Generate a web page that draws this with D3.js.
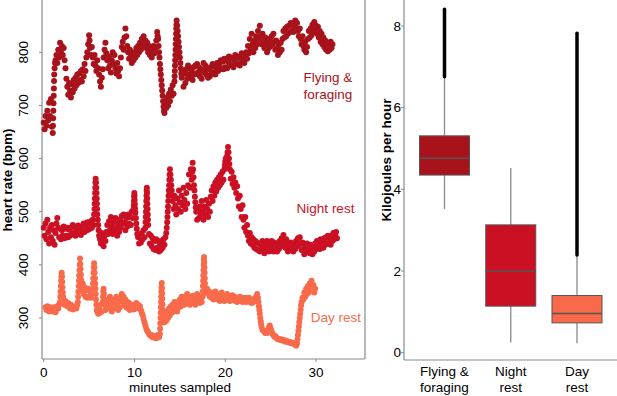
<!DOCTYPE html>
<html>
<head>
<meta charset="utf-8">
<script src="https://cdn.jsdelivr.net/npm/d3@7"></script>
<style>
  body { margin: 0; background: #fff; }
  text { font-family: "Liberation Sans", Arial, Helvetica, sans-serif; }
</style>
</head>
<body>
<div id="chart"></div>
<script>
// --- heart rate series: [minutes, bpm] ---
const flying = [
  [0.0,668],[0.1,655],[0.2,680],[0.3,662],[0.4,690],[0.5,672],[0.6,705],[0.7,680],[0.8,712],[0.9,660],
  [1.0,648],[1.02,662],[1.04,676],[1.06,690],[1.08,704],[1.1,718],[1.12,732],[1.14,746],[1.16,758],[1.2,770],
  [1.25,780],[1.3,785],[1.4,795],[1.5,780],[1.6,805],[1.7,790],[1.8,818],[1.9,800],[2.0,812],[2.1,795],
  [2.2,808],[2.3,785],[2.4,770],[2.5,750],[2.6,735],[2.7,720],[2.8,742],[2.9,728],[3.0,715],[3.1,740],
  [3.2,725],[3.3,748],[3.4,732],[3.5,752],[3.6,738],[3.7,758],[3.8,742],[3.9,760],[4.0,748],[4.1,765],
  [4.2,745],[4.3,768],[4.4,755],[4.5,778],[4.6,765],[4.7,790],[4.8,800],[4.9,815],[5.0,832],[5.05,822],
  [5.1,808],[5.2,795],[5.3,810],[5.4,790],[5.5,778],[5.6,795],[5.7,775],[5.8,765],[5.9,785],[6.0,770],
  [6.1,758],[6.2,745],[6.3,735],[6.4,752],[6.5,768],[6.6,790],[6.7,805],[6.8,818],[6.9,798],[7.0,785],
  [7.1,770],[7.2,792],[7.3,775],[7.4,762],[7.5,785],[7.6,800],[7.7,778],[7.8,795],[7.9,770],[8.0,760],
  [8.1,780],[8.2,765],[8.3,755],[8.4,770],[8.5,790],[8.6,810],[8.7,820],[8.8,805],[8.9,828],[9.0,845],
  [9.1,830],[9.2,812],[9.3,800],[9.4,788],[9.5,805],[9.6,792],[9.7,780],[9.8,798],[9.9,785],[10.0,800],
  [10.1,790],[10.2,808],[10.3,795],[10.4,812],[10.5,800],[10.6,818],[10.7,805],[10.8,825],[10.9,810],[11.0,830],
  [11.1,815],[11.2,822],[11.3,808],[11.4,818],[11.5,800],[11.6,812],[11.7,795],[11.8,805],[11.9,790],[12.0,800],
  [12.1,812],[12.2,798],[12.3,808],[12.4,822],[12.5,838],[12.55,830],[12.6,825],[12.65,812],[12.7,800],[12.75,790],
  [12.8,778],[12.85,768],[12.9,758],[12.95,748],[13.0,738],[13.05,728],[13.1,718],[13.15,708],[13.2,698],[13.25,690],
  [13.3,686],[13.4,705],[13.5,695],[13.6,715],[13.7,700],[13.8,722],[13.9,708],[14.0,730],[14.1,718],[14.2,738],
  [14.3,722],[14.4,745],[14.42,755],[14.44,765],[14.46,775],[14.48,785],[14.5,795],[14.52,805],[14.54,815],[14.56,825],
  [14.58,835],[14.6,845],[14.62,852],[14.64,860],[14.7,850],[14.75,840],[14.8,830],[14.85,820],[14.9,810],[14.95,800],
  [15.0,790],[15.05,780],[15.1,770],[15.15,760],[15.2,752],[15.3,765],[15.4,735],[15.5,760],[15.6,742],[15.7,768],
  [15.8,750],[15.9,775],[16.0,758],[16.1,770],[16.2,752],[16.3,765],[16.4,748],[16.5,772],[16.6,758],[16.7,775],
  [16.8,760],[16.9,778],[17.0,762],[17.1,772],[17.2,755],[17.3,768],[17.4,750],[17.5,765],[17.6,780],[17.7,762],
  [17.8,775],[17.9,758],[18.0,770],[18.1,752],[18.2,768],[18.3,755],[18.4,772],[18.5,760],[18.6,778],[18.7,762],
  [18.8,775],[18.9,758],[19.0,770],[19.1,780],[19.2,765],[19.3,778],[19.4,768],[19.5,785],[19.6,770],[19.7,782],
  [19.8,768],[19.9,788],[20.0,772],[20.1,785],[20.2,770],[20.3,782],[20.4,792],[20.5,778],[20.6,790],[20.7,775],
  [20.8,788],[20.9,772],[21.0,785],[21.1,795],[21.2,780],[21.3,792],[21.4,778],[21.5,790],[21.6,775],[21.7,788],
  [21.8,798],[21.9,782],[22.0,795],[22.1,780],[22.2,792],[22.3,800],[22.4,788],[22.5,812],[22.6,798],[22.7,825],
  [22.8,805],[22.9,835],[23.0,815],[23.1,800],[23.2,822],[23.3,808],[23.4,830],[23.5,815],[23.6,840],[23.7,825],
  [23.8,850],[23.9,830],[24.0,815],[24.1,835],[24.2,820],[24.3,808],[24.4,828],[24.5,812],[24.6,800],[24.7,820],
  [24.8,808],[24.9,825],[25.0,812],[25.1,830],[25.2,815],[25.3,835],[25.4,820],[25.5,805],[25.6,822],[25.7,808],
  [25.8,795],[25.9,815],[26.0,800],[26.1,818],[26.2,805],[26.3,825],[26.4,840],[26.5,828],[26.6,845],[26.7,830],
  [26.8,848],[26.9,835],[27.0,850],[27.1,838],[27.2,855],[27.3,840],[27.4,852],[27.5,838],[27.6,848],[27.7,860],
  [27.8,845],[27.9,855],[28.0,840],[28.1,830],[28.2,845],[28.3,825],[28.4,815],[28.5,830],[28.6,812],[28.7,805],
  [28.8,820],[28.9,800],[29.0,810],[29.1,825],[29.2,840],[29.3,828],[29.4,845],[29.5,832],[29.6,852],[29.7,838],
  [29.8,857],[29.9,842],[30.0,850],[30.1,835],[30.2,848],[30.3,828],[30.4,840],[30.5,820],[30.6,835],[30.7,815],
  [30.8,828],[30.9,810],[31.0,822],[31.1,805],[31.2,818],[31.3,802],[31.4,815],[31.5,805],[31.6,820],[31.7,808],[31.8,815]
];

const nightRest = [
  [0.0,470],[0.1,455],[0.2,478],[0.3,448],[0.4,485],[0.5,462],[0.6,440],[0.7,470],[0.8,452],[0.9,475],
  [1.0,445],[1.1,465],[1.2,438],[1.3,460],[1.4,478],[1.5,488],[1.6,470],[1.7,452],[1.8,468],[1.9,448],
  [2.0,465],[2.1,455],[2.2,472],[2.3,450],[2.4,468],[2.5,455],[2.6,470],[2.7,452],[2.8,466],[2.9,455],
  [3.0,470],[3.1,458],[3.2,475],[3.3,460],[3.4,472],[3.5,455],[3.6,468],[3.7,458],[3.8,474],[3.9,460],
  [4.0,470],[4.1,456],[4.2,472],[4.3,462],[4.4,478],[4.5,462],[4.6,475],[4.7,465],[4.8,480],[4.9,466],
  [5.0,478],[5.1,468],[5.2,482],[5.3,470],[5.4,485],[5.5,475],[5.55,495],[5.6,505],[5.62,515],[5.64,525],
  [5.66,535],[5.68,545],[5.7,555],[5.72,562],[5.76,555],[5.8,545],[5.82,535],[5.84,525],[5.86,515],[5.88,505],
  [5.9,495],[5.95,485],[6.0,475],[6.05,465],[6.1,455],[6.2,448],[6.3,440],[6.4,460],[6.5,448],[6.6,435],
  [6.7,455],[6.8,445],[6.9,462],[7.0,475],[7.1,458],[7.2,482],[7.3,465],[7.4,490],[7.5,472],[7.6,458],
  [7.7,480],[7.8,465],[7.9,488],[8.0,470],[8.1,455],[8.2,478],[8.3,462],[8.4,485],[8.5,470],[8.6,492],
  [8.7,478],[8.8,495],[8.9,480],[9.0,465],[9.1,488],[9.2,472],[9.3,495],[9.4,478],[9.5,490],[9.6,475],
  [9.7,500],[9.8,488],[9.9,505],[9.92,512],[9.94,520],[9.96,528],[9.98,535],[10.0,530],[10.02,522],[10.04,514],
  [10.06,506],[10.1,498],[10.15,488],[10.2,478],[10.25,468],[10.3,458],[10.4,452],[10.5,440],[10.6,458],[10.7,442],
  [10.8,460],[10.9,448],[11.0,465],[11.1,452],[11.2,470],[11.22,480],[11.24,490],[11.26,500],[11.28,510],[11.3,520],
  [11.32,530],[11.34,540],[11.36,545],[11.38,535],[11.4,525],[11.42,515],[11.44,505],[11.46,495],[11.48,485],[11.5,475],
  [11.6,458],[11.7,440],[11.8,455],[11.9,435],[12.0,450],[12.1,430],[12.2,445],[12.3,428],[12.4,448],[12.5,432],
  [12.6,445],[12.7,425],[12.8,440],[12.9,428],[13.0,445],[13.1,432],[13.2,448],[13.3,438],[13.4,452],[13.5,460],
  [13.55,470],[13.6,480],[13.63,490],[13.66,500],[13.69,510],[13.72,520],[13.75,530],[13.78,540],[13.81,550],[13.84,560],
  [13.87,570],[13.9,580],[13.95,570],[14.0,560],[14.05,550],[14.1,540],[14.15,530],[14.2,520],[14.3,505],[14.4,530],
  [14.5,512],[14.6,495],[14.7,525],[14.8,505],[14.9,540],[15.0,518],[15.1,500],[15.2,530],[15.3,512],[15.4,545],
  [15.5,522],[15.6,505],[15.7,535],[15.8,515],[15.9,550],[16.0,570],[16.1,545],[16.2,580],[16.3,560],[16.35,575],
  [16.4,592],[16.45,580],[16.5,565],[16.55,550],[16.6,540],[16.65,528],[16.7,518],[16.75,508],[16.8,500],[16.9,485],
  [17.0,505],[17.1,488],[17.2,510],[17.3,495],[17.4,520],[17.5,500],[17.6,485],[17.7,510],[17.8,495],[17.9,522],
  [18.0,505],[18.1,490],[18.2,515],[18.3,500],[18.4,528],[18.5,540],[18.6,520],[18.7,548],[18.8,530],[18.9,555],
  [19.0,538],[19.1,560],[19.2,545],[19.3,565],[19.4,550],[19.5,570],[19.6,555],[19.7,575],[19.8,560],[19.9,580],
  [19.95,588],[20.0,595],[20.05,600],[20.1,585],[20.15,598],[20.2,605],[20.25,612],[20.3,622],[20.35,612],[20.4,600],
  [20.45,590],[20.5,580],[20.6,562],[20.7,575],[20.8,552],[20.9,565],[21.0,545],[21.1,555],[21.2,535],[21.3,548],
  [21.4,525],[21.5,510],[21.6,530],[21.7,505],[21.8,490],[21.9,512],[22.0,485],[22.1,470],[22.2,490],[22.3,462],
  [22.4,475],[22.5,455],[22.6,445],[22.7,460],[22.8,440],[22.9,452],[23.0,438],[23.1,448],[23.2,432],[23.3,445],
  [23.4,430],[23.5,442],[23.6,428],[23.7,440],[23.8,425],[23.9,438],[24.0,428],[24.1,445],[24.2,432],[24.3,422],
  [24.4,440],[24.5,428],[24.6,445],[24.7,432],[24.8,425],[24.9,440],[25.0,430],[25.1,445],[25.2,435],[25.3,425],
  [25.4,442],[25.5,430],[25.6,438],[25.7,425],[25.8,440],[25.9,430],[26.0,445],[26.1,435],[26.2,450],[26.3,440],
  [26.4,456],[26.5,445],[26.6,432],[26.7,448],[26.8,435],[26.9,425],[27.0,440],[27.1,430],[27.2,442],[27.3,428],
  [27.4,438],[27.5,425],[27.6,440],[27.7,430],[27.8,445],[27.9,435],[28.0,450],[28.1,438],[28.2,452],[28.3,440],
  [28.4,428],[28.5,442],[28.6,430],[28.7,420],[28.8,438],[28.9,428],[29.0,440],[29.1,425],[29.2,435],[29.3,422],
  [29.4,438],[29.5,428],[29.6,420],[29.7,435],[29.8,425],[29.9,440],[30.0,430],[30.1,445],[30.2,432],[30.3,442],
  [30.4,430],[30.5,448],[30.6,435],[30.7,445],[30.8,432],[30.9,450],[31.0,438],[31.1,452],[31.2,440],[31.3,455],
  [31.4,442],[31.5,450],[31.6,438],[31.7,455],[31.8,445],[31.9,460],[32.0,448],[32.1,455],[32.2,462],[32.3,450]
];

const dayRest = [
  [0.2,320],[0.3,315],[0.4,322],[0.5,318],[0.6,312],[0.7,320],[0.8,315],[0.9,318],[1.0,312],[1.1,320],
  [1.2,316],[1.3,311],[1.4,318],[1.5,322],[1.6,318],[1.7,325],[1.8,330],[1.83,340],[1.86,350],[1.89,360],
  [1.92,370],[1.95,378],[1.98,385],[2.01,378],[2.04,368],[2.07,358],[2.1,348],[2.13,340],[2.16,332],[2.2,328],
  [2.3,325],[2.4,332],[2.5,328],[2.6,322],[2.7,328],[2.8,322],[2.9,318],[3.0,325],[3.1,320],[3.2,316],
  [3.3,320],[3.4,318],[3.5,322],[3.6,318],[3.7,325],[3.76,330],[3.79,340],[3.82,350],[3.85,360],[3.88,370],
  [3.91,380],[3.94,390],[3.97,400],[4.0,412],[4.03,402],[4.06,392],[4.09,382],[4.12,372],[4.15,362],[4.2,352],
  [4.3,365],[4.4,345],[4.5,358],[4.6,340],[4.7,352],[4.8,338],[4.9,355],[5.0,340],[5.1,350],[5.2,338],
  [5.3,345],[5.4,355],[5.43,365],[5.46,375],[5.49,385],[5.52,395],[5.55,403],[5.58,395],[5.61,385],[5.64,375],
  [5.67,365],[5.7,355],[5.73,345],[5.76,335],[5.8,325],[5.85,315],[5.9,312],[6.0,308],[6.1,318],[6.2,310],
  [6.3,325],[6.4,312],[6.5,330],[6.53,340],[6.56,350],[6.6,355],[6.63,345],[6.66,335],[6.7,325],[6.8,315],
  [6.9,330],[7.0,318],[7.1,335],[7.2,320],[7.3,340],[7.4,325],[7.5,312],[7.6,330],[7.7,318],[7.8,335],
  [7.9,322],[8.0,340],[8.1,328],[8.2,315],[8.3,332],[8.4,320],[8.5,338],[8.6,345],[8.7,330],[8.8,340],
  [8.9,325],[9.0,335],[9.1,320],[9.2,330],[9.3,318],[9.4,328],[9.5,315],[9.6,325],[9.7,318],[9.8,322],
  [9.9,316],[10.0,325],[10.1,318],[10.2,328],[10.3,320],[10.4,325],[10.5,318],[10.6,322],[10.7,315],[10.8,310],
  [10.9,305],[11.0,298],[11.1,292],[11.2,286],[11.3,280],[11.4,276],[11.5,273],[11.6,270],[11.7,268],[11.8,266],
  [11.9,268],[12.0,264],[12.1,266],[12.2,263],[12.3,266],[12.4,262],[12.5,265],[12.6,268],[12.7,264],[12.8,270],
  [12.82,280],[12.84,290],[12.86,300],[12.88,310],[12.9,320],[12.92,330],[12.94,340],[12.96,350],[12.98,358],[13.0,366],
  [13.02,356],[13.04,346],[13.06,336],[13.08,326],[13.1,316],[13.12,306],[13.15,298],[13.2,292],[13.3,292],[13.4,305],
  [13.5,295],[13.6,312],[13.7,300],[13.8,318],[13.9,305],[14.0,322],[14.1,310],[14.2,325],[14.3,312],[14.4,330],
  [14.5,318],[14.6,325],[14.7,312],[14.8,330],[14.9,320],[15.0,335],[15.1,322],[15.2,340],[15.3,328],[15.4,335],
  [15.5,325],[15.6,340],[15.7,328],[15.8,345],[15.9,332],[16.0,340],[16.1,325],[16.2,338],[16.3,328],[16.4,342],
  [16.5,330],[16.6,338],[16.7,325],[16.8,335],[16.9,345],[17.0,330],[17.1,340],[17.2,328],[17.3,338],[17.4,330],
  [17.5,340],[17.52,350],[17.54,360],[17.56,370],[17.58,380],[17.6,390],[17.62,400],[17.64,410],[17.66,415],[17.68,405],
  [17.7,395],[17.72,385],[17.74,375],[17.76,365],[17.8,355],[17.85,348],[17.9,348],[18.0,355],[18.1,345],[18.2,350],
  [18.3,340],[18.4,348],[18.5,338],[18.6,345],[18.7,335],[18.8,342],[18.9,350],[19.0,338],[19.1,345],[19.2,335],
  [19.3,342],[19.4,332],[19.5,340],[19.6,348],[19.7,336],[19.8,342],[19.9,332],[20.0,340],[20.1,335],[20.2,345],
  [20.3,336],[20.4,342],[20.5,332],[20.6,340],[20.7,335],[20.8,343],[20.9,334],[21.0,340],[21.1,332],[21.2,338],
  [21.3,330],[21.4,338],[21.5,332],[21.6,340],[21.7,334],[21.8,338],[21.9,330],[22.0,336],[22.1,332],[22.2,338],
  [22.3,330],[22.4,336],[22.5,332],[22.6,338],[22.7,330],[22.8,335],[22.9,328],[23.0,334],[23.1,330],[23.2,336],
  [23.3,332],[23.4,340],[23.5,345],[23.6,338],[23.65,330],[23.7,322],[23.75,315],[23.8,308],[23.85,300],[23.9,294],
  [23.95,288],[24.0,283],[24.1,278],[24.2,276],[24.3,275],[24.4,272],[24.5,275],[24.6,272],[24.7,276],[24.8,282],
  [24.9,286],[25.0,280],[25.1,275],[25.2,270],[25.3,268],[25.4,265],[25.5,266],[25.6,263],[25.7,262],[25.8,260],
  [25.9,261],[26.0,259],[26.1,260],[26.2,258],[26.3,259],[26.4,257],[26.5,258],[26.6,256],[26.7,257],[26.8,255],
  [26.9,256],[27.0,254],[27.1,255],[27.2,253],[27.3,254],[27.4,252],[27.5,253],[27.6,251],[27.7,250],[27.8,248],
  [27.9,252],[27.95,260],[28.0,268],[28.05,276],[28.1,284],[28.15,292],[28.2,300],[28.25,308],[28.3,316],[28.35,324],
  [28.4,330],[28.5,338],[28.6,335],[28.7,348],[28.8,340],[28.9,355],[29.0,345],[29.1,360],[29.2,348],[29.3,365],
  [29.4,352],[29.5,370],[29.6,358],[29.7,362],[29.8,348],[29.9,355]
];

const hrTicks = [300, 400, 500, 600, 700, 800];
const minuteTicks = [0, 10, 20, 30];

// --- energy box plot (kJ per hour) ---
const categories = ["Flying & foraging", "Night rest", "Day rest"];
const catLines = [["Flying &", "foraging"], ["Night", "rest"], ["Day", "rest"]];
const whiskerLo = [3.52, 0.25, 0.23];
const q1 = [4.35, 1.14, 0.73];
const median = [4.76, 2.0, 0.96];
const q3 = [5.31, 3.13, 1.40];
const whiskerHi = [6.76, 4.52, 2.39];
const outlierHi = [8.41, null, 7.82];
const kjTicks = [0, 2, 4, 6, 8];

const colors = ["#a8121b", "#cc1024", "#f96a4b"];

const width = 617, height = 396;
const svg = d3.select("#chart").append("svg")
  .attr("width", width).attr("height", height);

const axisColor = "#8a8a8a";
const font = 13.5;

// ===== left panel =====
const x = d3.scaleLinear().domain([0, 30]).range([43.7, 316.1]);
const y = d3.scaleLinear().domain([300, 800]).range([318, 52.3]);
const left = { l: 42, r: 365, b: 359 };

const frame = svg.append("g").attr("stroke", axisColor).attr("stroke-width", 1.2);
frame.append("line").attr("x1", left.l).attr("x2", left.l).attr("y1", 0).attr("y2", left.b);
frame.append("line").attr("x1", left.r).attr("x2", left.r).attr("y1", 0).attr("y2", left.b);
frame.append("line").attr("x1", left.l).attr("x2", left.r).attr("y1", left.b).attr("y2", left.b);

// y ticks
svg.append("g").selectAll("line").data(hrTicks).enter().append("line")
  .attr("x1", left.l - 3).attr("x2", left.l)
  .attr("y1", d => y(d)).attr("y2", d => y(d))
  .attr("stroke", axisColor);
svg.append("g").selectAll("text").data(hrTicks).enter().append("text")
  .attr("transform", d => `translate(28,${y(d)}) rotate(-90)`)
  .attr("text-anchor", "middle")
  .attr("font-size", font)
  .text(d => d);

// x ticks
svg.append("g").selectAll("line").data(minuteTicks).enter().append("line")
  .attr("x1", d => x(d)).attr("x2", d => x(d))
  .attr("y1", left.b).attr("y2", left.b + 3)
  .attr("stroke", axisColor);
svg.append("g").selectAll("text").data(minuteTicks).enter().append("text")
  .attr("x", d => x(d)).attr("y", 377)
  .attr("text-anchor", "middle")
  .attr("font-size", font)
  .text(d => d);

svg.append("text").attr("x", 180).attr("y", 392)
  .attr("text-anchor", "middle").attr("font-size", font)
  .text("minutes sampled");
svg.append("text").attr("transform", "translate(12,180) rotate(-90)")
  .attr("text-anchor", "middle").attr("font-size", font).attr("font-weight", "bold")
  .text("heart rate (bpm)");

// points
[flying, nightRest, dayRest].forEach((series, i) => {
  svg.append("g").attr("fill", colors[i])
    .selectAll("circle").data(series).enter().append("circle")
    .attr("cx", d => x(d[0]))
    .attr("cy", d => y(d[1]))
    .attr("r", 3);
});

// series labels
const lab = svg.append("g").attr("font-size", font).attr("text-anchor", "middle");
lab.append("text").attr("x", 328).attr("y", 82).attr("fill", colors[0]).text("Flying &");
lab.append("text").attr("x", 328).attr("y", 99).attr("fill", colors[0]).text("foraging");
lab.append("text").attr("x", 325.5).attr("y", 213).attr("fill", colors[1]).text("Night rest");
lab.append("text").attr("x", 336).attr("y", 322).attr("fill", colors[2]).text("Day rest");

// ===== right panel =====
const xb = d3.scalePoint().domain(categories).range([444.5, 577]);
const yb = d3.scaleLinear().domain([0, 8]).range([352.7, 26]);
const right = { l: 404, b: 360 };
const half = 25;

const frame2 = svg.append("g").attr("stroke", axisColor).attr("stroke-width", 1.2);
frame2.append("line").attr("x1", right.l).attr("x2", right.l).attr("y1", 0).attr("y2", right.b);
frame2.append("line").attr("x1", right.l).attr("x2", width).attr("y1", right.b).attr("y2", right.b);

svg.append("g").selectAll("line").data(kjTicks).enter().append("line")
  .attr("x1", right.l - 3).attr("x2", right.l)
  .attr("y1", d => yb(d)).attr("y2", d => yb(d))
  .attr("stroke", axisColor);
svg.append("g").selectAll("text").data(kjTicks).enter().append("text")
  .attr("x", right.l - 3).attr("y", d => yb(d) + 4.6)
  .attr("text-anchor", "end").attr("font-size", font)
  .text(d => d);

svg.append("text").attr("transform", "translate(391,160) rotate(-90)")
  .attr("text-anchor", "middle").attr("font-size", font).attr("font-weight", "bold")
  .text("Kilojoules per hour");

const boxes = svg.append("g");
categories.forEach((c, i) => {
  const cx = xb(c);
  // whisker
  boxes.append("line").attr("x1", cx).attr("x2", cx)
    .attr("y1", yb(whiskerLo[i])).attr("y2", yb(whiskerHi[i]))
    .attr("stroke", "#8a8a8a").attr("stroke-width", 1.3);
  // outliers (dense run of points)
  if (outlierHi[i] != null) {
    boxes.append("line").attr("x1", cx).attr("x2", cx)
      .attr("y1", yb(whiskerHi[i])).attr("y2", yb(outlierHi[i]))
      .attr("stroke", "#000").attr("stroke-width", 3.5).attr("stroke-linecap", "round");
  }
  boxes.append("rect")
    .attr("x", cx - half).attr("width", half * 2)
    .attr("y", yb(q3[i])).attr("height", yb(q1[i]) - yb(q3[i]))
    .attr("fill", colors[i]).attr("stroke", "#555").attr("stroke-width", 1);
  boxes.append("line").attr("x1", cx - half).attr("x2", cx + half)
    .attr("y1", yb(median[i])).attr("y2", yb(median[i]))
    .attr("stroke", "#555").attr("stroke-width", 1.6);
  catLines[i].forEach((t, k) => {
    boxes.append("text").attr("x", cx).attr("y", 376 + k * 16)
      .attr("text-anchor", "middle").attr("font-size", font).text(t);
  });
});
</script>
</body>
</html>
